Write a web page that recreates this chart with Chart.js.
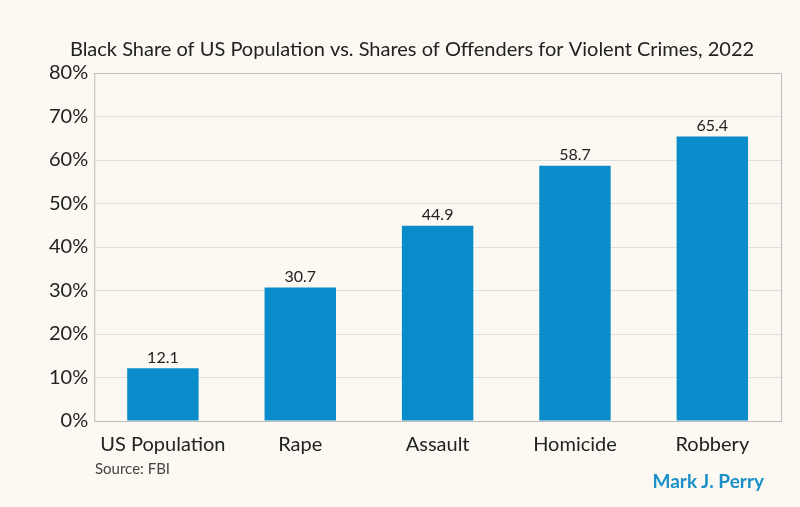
<!DOCTYPE html>
<html>
<head>
<meta charset="utf-8">
<script src="https://cdn.jsdelivr.net/npm/chart.js@4"></script>
<style>
  html, body { margin: 0; padding: 0; background: #fbf9f1; }
  #wrap { position: relative; width: 800px; height: 507px; }
  #source { position: absolute; left: 95px; top: 459px; font: 15px Lato, sans-serif; color: #444; }
  #brand { position: absolute; right: 36px; top: 469px; font: bold 19px Lato, sans-serif; color: #1a8fc9; }
</style>
</head>
<body>
<div id="wrap">
  <canvas id="chart" width="800" height="507"></canvas>
  <div id="source">Source: FBI</div>
  <div id="brand">Mark J. Perry</div>
</div>
<script>
const categories = ['US Population', 'Rape', 'Assault', 'Homicide', 'Robbery'];
const shares = [12.1, 30.7, 44.9, 58.7, 65.4];
const yTicks = [0, 10, 20, 30, 40, 50, 60, 70, 80];

const valueLabels = {
    id: 'valueLabels',
    afterDatasetsDraw(chart) {
        const ctx = chart.ctx;
        const meta = chart.getDatasetMeta(0);
        ctx.save();
        ctx.font = '16px Lato, sans-serif';
        ctx.fillStyle = '#222';
        ctx.textAlign = 'center';
        ctx.textBaseline = 'bottom';
        meta.data.forEach((bar, i) => {
            ctx.fillText(shares[i].toFixed(1), bar.x, bar.y - 3);
        });
        ctx.restore();
    },
};

const plotBorder = {
    id: 'plotBorder',
    afterDraw(chart) {
        const a = chart.chartArea;
        const ctx = chart.ctx;
        ctx.save();
        ctx.strokeStyle = '#bdbdbd';
        ctx.lineWidth = 1;
        ctx.strokeRect(a.left + 0.5, a.top + 0.5, a.right - a.left, a.bottom - a.top);
        ctx.restore();
    },
};

new Chart(document.getElementById('chart'), {
    type: 'bar',
    data: {
        labels: categories,
        datasets: [{
            data: shares,
            backgroundColor: '#0a8bca',
            categoryPercentage: 1,
            barPercentage: 0.52,
        }],
    },
    options: {
        responsive: false,
        animation: false,
        layout: { padding: { left: 43, right: 19, top: 8, bottom: 46 } },
        plugins: {
            legend: { display: false },
            tooltip: { enabled: false },
            title: {
                display: true,
                text: 'Black Share of US Population vs. Shares of Offenders for Violent Crimes, 2022',
                color: '#222',
                font: { family: 'Lato', size: 20, weight: 'normal' },
                padding: { top: 30, bottom: 11 },
            },
        },
        scales: {
            x: {
                grid: { display: false },
                border: { display: false },
                ticks: { color: '#222', font: { family: 'Lato', size: 20 }, padding: 4 },
            },
            y: {
                min: 0,
                max: 80,
                afterBuildTicks: (axis) => { axis.ticks = yTicks.map((v) => ({ value: v })); },
                grid: { color: '#dedede', drawTicks: false },
                border: { display: false },
                ticks: {
                    color: '#222',
                    font: { family: 'Lato', size: 20 },
                    padding: 6,
                    callback: (v) => v + '%',
                },
            },
        },
    },
    plugins: [valueLabels, plotBorder],
});
</script>
</body>
</html>
